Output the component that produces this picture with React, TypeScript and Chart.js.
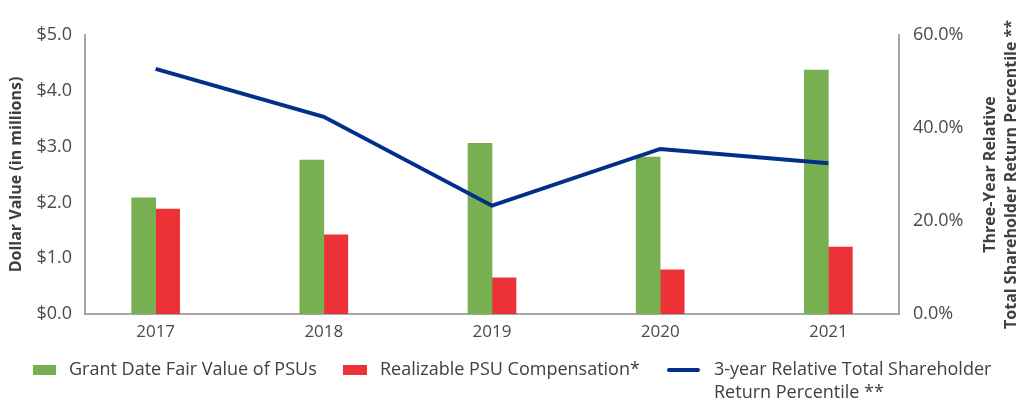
import React, { useEffect, useRef } from "react";
import { Chart, registerables } from "chart.js";

Chart.register(...registerables);

const years = ["2017", "2018", "2019", "2020", "2021"];
const grantValues = [2.08, 2.76, 3.06, 2.81, 4.37];
const realizableValues = [1.88, 1.42, 0.65, 0.79, 1.2];
const tsrPercentile = [52.7, 42.4, 23.3, 35.5, 32.4];

const leftTitle = "Dollar Value (in millions)";
const rightTitle = ["Three-Year Relative", "Total Shareholder Return Percentile **"];
const legendLabels = [
  "Grant Date Fair Value of PSUs",
  "Realizable PSU Compensation*",
  ["3-year Relative Total Shareholder", "Return Percentile **"],
];

const GREEN = "#78b051";
const RED = "#ed3237";
const NAVY = "#032f8c";
const AXIS = "#a6a6a6";
const TEXT = "#4a4a4a";
const TITLE = "#404040";
const FONT = "'Open Sans'";

const overlayPlugin = {
  id: "overlay",
  afterDraw(chart: any) {
    const { ctx, chartArea } = chart;
    const cy = (chartArea.top + chartArea.bottom) / 2;
    ctx.save();
    // left axis title
    ctx.font = `bold 16px ${FONT}`;
    ctx.fillStyle = TITLE;
    ctx.textAlign = "center";
    ctx.textBaseline = "middle";
    ctx.save();
    ctx.translate(16, cy);
    ctx.rotate(-Math.PI / 2);
    ctx.fillText(leftTitle, 0, 0);
    ctx.restore();
    // right axis title
    ctx.save();
    ctx.translate(990, cy);
    ctx.rotate(-Math.PI / 2);
    rightTitle.forEach((t, i) => ctx.fillText(t, 0, i * 21));
    ctx.restore();

    // legend
    ctx.font = `18px ${FONT}`;
    ctx.textAlign = "left";
    ctx.textBaseline = "middle";
    const ly = 370;
    ctx.fillStyle = GREEN;
    ctx.fillRect(33, ly - 5, 23, 10);
    ctx.fillStyle = TITLE;
    ctx.fillText(legendLabels[0] as string, 69, ly);
    ctx.fillStyle = RED;
    ctx.fillRect(343, ly - 5, 24, 10);
    ctx.fillStyle = TITLE;
    ctx.fillText(legendLabels[1] as string, 380, ly);
    ctx.strokeStyle = NAVY;
    ctx.lineWidth = 4;
    ctx.lineCap = "round";
    ctx.beginPath();
    ctx.moveTo(669, ly);
    ctx.lineTo(698, ly);
    ctx.stroke();
    (legendLabels[2] as string[]).forEach((t, i) => ctx.fillText(t, 714, ly + i * 23));
    ctx.restore();
  },
};

export default function App() {
  const ref = useRef<HTMLCanvasElement>(null);
  useEffect(() => {
    document.body.style.margin = "0";
    const canvas = ref.current!;
    const chart = new Chart(canvas, {
      type: "bar",
      data: {
        datasets: [
          {
            type: "line",
            label: "3-year Relative Total Shareholder Return Percentile **",
            data: tsrPercentile.map((v, i) => ({ x: i, y: v })),
            borderColor: NAVY,
            backgroundColor: NAVY,
            borderWidth: 4,
            pointRadius: 0,
            tension: 0,
            yAxisID: "y1",
            order: 0,
          } as any,
          {
            type: "bar",
            label: "Grant Date Fair Value of PSUs",
            data: grantValues.map((v, i) => ({ x: i, y: v })),
            backgroundColor: GREEN,
            barThickness: 24,
            yAxisID: "y",
            order: 1,
          },
          {
            type: "bar",
            label: "Realizable PSU Compensation*",
            data: realizableValues.map((v, i) => ({ x: i, y: v })),
            backgroundColor: RED,
            barThickness: 24,
            yAxisID: "y",
            order: 1,
          },
        ],
      },
      options: {
        responsive: false,
        animation: false,
        layout: { padding: { top: 35, left: 0, right: 0, bottom: 0 } },
        plugins: {
          legend: { display: false },
          tooltip: { enabled: false },
        },
        scales: {
          x: {
            type: "linear",
            offset: false,
            min: -0.42,
            max: 4.42,
            grid: { display: false, drawTicks: false },
            border: { display: true, color: AXIS, width: 2 },
            afterBuildTicks: (scale: any) => {
              scale.ticks = years.map((_, i) => ({ value: i }));
            },
            afterFit: (scale: any) => {
              scale.height = 88;
            },
            ticks: {
              autoSkip: false,
              maxRotation: 0,
              padding: 8,
              color: TEXT,
              font: { family: FONT, size: 17 },
              callback: (v: any) => years[v as number] ?? "",
            },
          },
          y: {
            position: "left",
            min: 0,
            max: 5,
            grid: { display: false, drawTicks: false },
            border: { display: true, color: AXIS, width: 2 },
            afterFit: (scale: any) => {
              scale.width = 85;
            },
            ticks: {
              stepSize: 1,
              padding: 13,
              color: TEXT,
              font: { family: FONT, size: 18 },
              callback: (v: any) => "$" + Number(v).toFixed(1),
            },
          },
          y1: {
            position: "right",
            min: 0,
            max: 60,
            grid: { display: false, drawTicks: false },
            border: { display: true, color: AXIS, width: 2 },
            afterFit: (scale: any) => {
              scale.width = 117;
            },
            ticks: {
              stepSize: 20,
              padding: 14,
              color: TEXT,
              font: { family: FONT, size: 18 },
              callback: (v: any) => Number(v).toFixed(1) + "%",
            },
          },
        },
      },
      plugins: [overlayPlugin],
    });
    return () => chart.destroy();
  }, []);
  return <canvas ref={ref} width={1016} height={402} style={{ display: "block" }} />;
}
